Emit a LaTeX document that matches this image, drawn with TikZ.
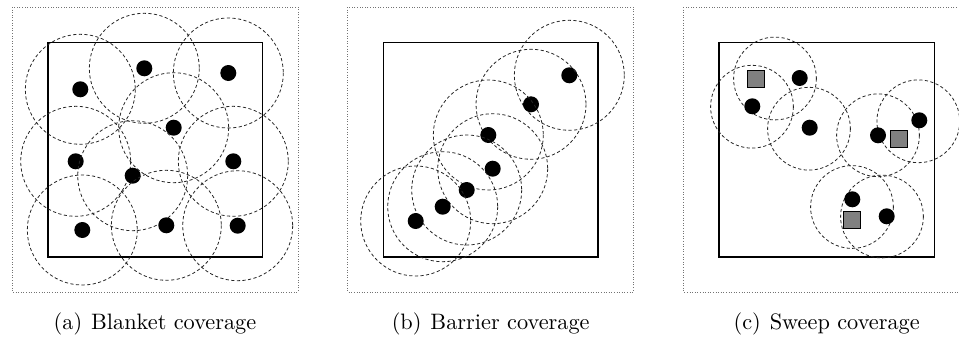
\documentclass[tikz,border=0pt]{standalone}
\begin{document}
\begin{tikzpicture}[x=1pt,y=-1pt,
  sensor/.style={circle,fill=black,inner sep=0pt,minimum size=16pt},
  robot/.style={rectangle,draw=black,line width=0.8pt,fill=black!50,inner sep=0pt,minimum size=17pt},
  sensrange/.style={draw=black!85,line width=0.8pt,dash pattern=on 3.2pt off 2.4pt},
  fieldbox/.style={draw=black,line width=1.6pt},
  outerframe/.style={draw=black!55,line width=0.7pt,dash pattern=on 1pt off 1.6pt},
  captext/.style={anchor=base,inner sep=0pt}]
\useasboundingbox (0,0) rectangle (959,338);
\clip (0,0) rectangle (959,338);
% frames
\draw[outerframe] (12,7) rectangle (298,292);
\draw[outerframe] (347.7,7) rectangle (633.3,292);
\draw[outerframe] (683.3,7) rectangle (969.3,292);
% fields
\draw[fieldbox] (47.7,42.3) rectangle (262.3,257);
\draw[fieldbox] (383.3,42.3) rectangle (598,257);
\draw[fieldbox] (719,42.3) rectangle (934.3,257);
% (a) blanket
\foreach \n/\x/\y in {1/144.3/68.3, 2/228.3/73, 3/80.3/89.3, 4/173.7/127.7, 5/75.7/161.3,
                      6/233.3/161.3, 7/132.7/175.7, 8/82.3/230, 9/166.3/225.3, 10/237.7/225.7}{
  \node[sensor] (a\n) at (\x,\y) {};
  \draw[sensrange] (a\n.center) circle (55);
}
% (b) barrier
\foreach \n/\x/\y in {1/569.3/75.3, 2/531/104.3, 3/488.3/135, 4/492.7/168.7,
                      5/466.7/190, 6/442.7/206.7, 7/415.7/221}{
  \node[sensor] (b\n) at (\x,\y) {};
  \draw[sensrange] (b\n.center) circle (55);
}
% (c) sweep
\foreach \n/\x/\y in {1/775/78.5, 2/752/106.7, 3/809/128.7, 4/878/135.3,
                      5/918.3/121.3, 6/852/207, 7/882/216.5}{
  \coordinate (cc\n) at (\x,\y);
  \draw[sensrange] (cc\n) circle (41.4);
}
\foreach \n/\x/\y in {1/799.7/78, 2/752.3/106.3, 3/809.7/127.7, 4/878/135.3,
                      5/919.3/120.3, 6/852.3/199.3, 7/886.7/216.3}{
  \node[sensor] (c\n) at (\x,\y) {};
}
\node[robot] (r1) at (756,79) {};
\node[robot] (r2) at (899.3,138.7) {};
\node[robot] (r3) at (851.7,219.7) {};
% captions
\node[captext] (capa) at (155,329) {\scalebox{2.23}{(a)\hspace{4pt}Blanket coverage}};
\node[captext] (capb) at (490.7,329) {\scalebox{2.23}{(b)\hspace{4pt}Barrier coverage}};
\node[captext] (capc) at (826.7,329) {\scalebox{2.23}{(c)\hspace{4pt}Sweep coverage}};
\end{tikzpicture}
\end{document}
